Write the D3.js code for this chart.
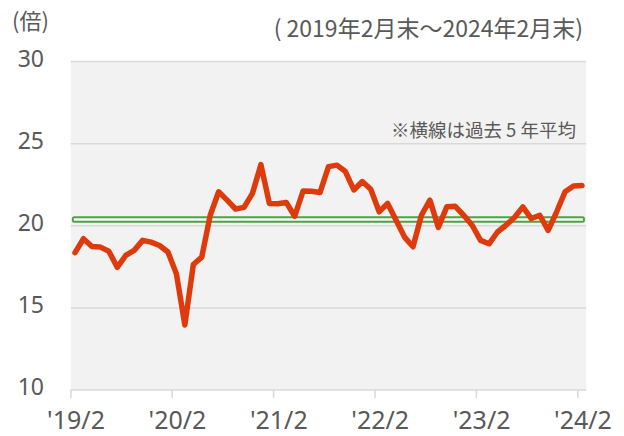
<!DOCTYPE html>
<html>
<head>
  <meta charset="utf-8">
  <script src="https://cdn.jsdelivr.net/npm/d3@7"></script>
  <style>
    body { margin: 0; background: #fff; }
    text { font-family: "Noto Sans", "Noto Sans CJK JP", sans-serif; fill: #595959; }
    .jp { font-family: "Noto Sans CJK JP", sans-serif; }
  </style>
</head>
<body>
  <script>
    // monthly PER, 2019/2 .. 2024/2
    var months = [];
    for (var yr = 2019; yr <= 2024; yr++) {
      for (var m = 1; m <= 12; m++) {
        if (yr === 2019 && m < 2) continue;
        if (yr === 2024 && m > 2) break;
        months.push(yr + "/" + m);
      }
    }

    var per = [
      18.36, 19.21, 18.74, 18.70, 18.45, 17.47, 18.19, 18.50, 19.11, 19.00, 18.80, 18.40,
      17.07, 13.96, 17.64, 18.09, 20.64, 22.07, 21.56, 21.02, 21.12, 21.97, 23.72, 21.36,
      21.34, 21.42, 20.58, 22.12, 22.10, 22.03, 23.60, 23.69, 23.30, 22.18, 22.69, 22.22,
      20.85, 21.36, 20.34, 19.31, 18.72, 20.64, 21.56, 19.90, 21.15, 21.18, 20.64, 20.03,
      19.11, 18.90, 19.62, 20.03, 20.50, 21.15, 20.44, 20.64, 19.72, 20.85, 22.07, 22.42,
      22.45
    ];

    var average = 20.38;
    var yTicks = [10, 15, 20, 25, 30];
    var xTickMonths = ["2019/2", "2020/2", "2021/2", "2022/2", "2023/2", "2024/2"];
    var xTickLabels = ["'19/2", "'20/2", "'21/2", "'22/2", "'23/2", "'24/2"];

    var width = 624, height = 436;
    var plotLeft = 70.8, plotRight = 586.2, plotTop = 61.5, plotBottom = 390;

    var svg = d3.select("body").append("svg")
      .attr("width", width)
      .attr("height", height);

    var x = d3.scaleBand()
      .domain(months)
      .range([plotLeft, plotRight]);

    var y = d3.scaleLinear()
      .domain([10, 30])
      .range([plotBottom, plotTop]);

    // plot background
    svg.append("rect")
      .attr("x", plotLeft)
      .attr("y", plotTop)
      .attr("width", plotRight - plotLeft)
      .attr("height", plotBottom - plotTop)
      .style("fill", "#f2f2f2");

    // gridlines
    svg.selectAll(".grid")
      .data(yTicks)
      .enter().append("line")
      .attr("x1", plotLeft)
      .attr("x2", plotRight)
      .attr("y1", function(d) { return y(d); })
      .attr("y2", function(d) { return y(d); })
      .style("stroke", "#d9d9d9")
      .style("stroke-width", 1.5);

    // y labels
    svg.selectAll(".ylab")
      .data(yTicks)
      .enter().append("text")
      .attr("x", 44)
      .attr("y", function(d) { return y(d) - 3; })
      .attr("dy", "0.35em")
      .attr("text-anchor", "end")
      .style("font-size", "23px")
      .text(function(d) { return d; });

    // x axis ticks at category boundaries
    svg.selectAll(".xtick")
      .data(xTickMonths)
      .enter().append("line")
      .attr("x1", function(d) { return x(d); })
      .attr("x2", function(d) { return x(d); })
      .attr("y1", plotBottom)
      .attr("y2", plotBottom + 8)
      .style("stroke", "#d9d9d9")
      .style("stroke-width", 1.5);

    svg.selectAll(".xlab")
      .data(xTickMonths)
      .enter().append("text")
      .attr("x", function(d) { return x(d) + x.bandwidth() / 2 + 1; })
      .attr("y", 429)
      .attr("text-anchor", "middle")
      .style("font-size", "25px")
      .text(function(d, i) { return xTickLabels[i]; });

    // five-year average line
    svg.append("rect")
      .attr("x", x(months[0]) + 2)
      .attr("y", y(average) - 2.3)
      .attr("width", x(months[months.length - 1]) + x.bandwidth() / 2 - x(months[0]))
      .attr("height", 4.6)
      .attr("rx", 1.5)
      .style("fill", "#f6f9f5")
      .style("stroke", "#52a048")
      .style("stroke-width", 2);

    // PER line
    var line = d3.line()
      .x(function(d, i) { return x(months[i]) + x.bandwidth() / 2; })
      .y(function(d) { return y(d); });

    svg.append("path")
      .datum(per)
      .attr("d", line)
      .style("fill", "none")
      .style("stroke", "#df3a0c")
      .style("stroke-width", 5.5)
      .style("stroke-linejoin", "round")
      .style("stroke-linecap", "round");

    // texts
    svg.append("text")
      .attr("class", "jp")
      .attr("x", 12)
      .attr("y", 29)
      .style("font-size", "22px")
      .text("(倍)");

    svg.append("text")
      .attr("class", "jp")
      .attr("x", 583)
      .attr("y", 37)
      .attr("text-anchor", "end")
      .style("font-size", "23px")
      .text("( 2019年2月末～2024年2月末)");

    svg.append("text")
      .attr("class", "jp")
      .attr("x", 576)
      .attr("y", 137)
      .attr("text-anchor", "end")
      .style("font-size", "18.5px")
      .text("※横線は過去 5 年平均");
  </script>
</body>
</html>
